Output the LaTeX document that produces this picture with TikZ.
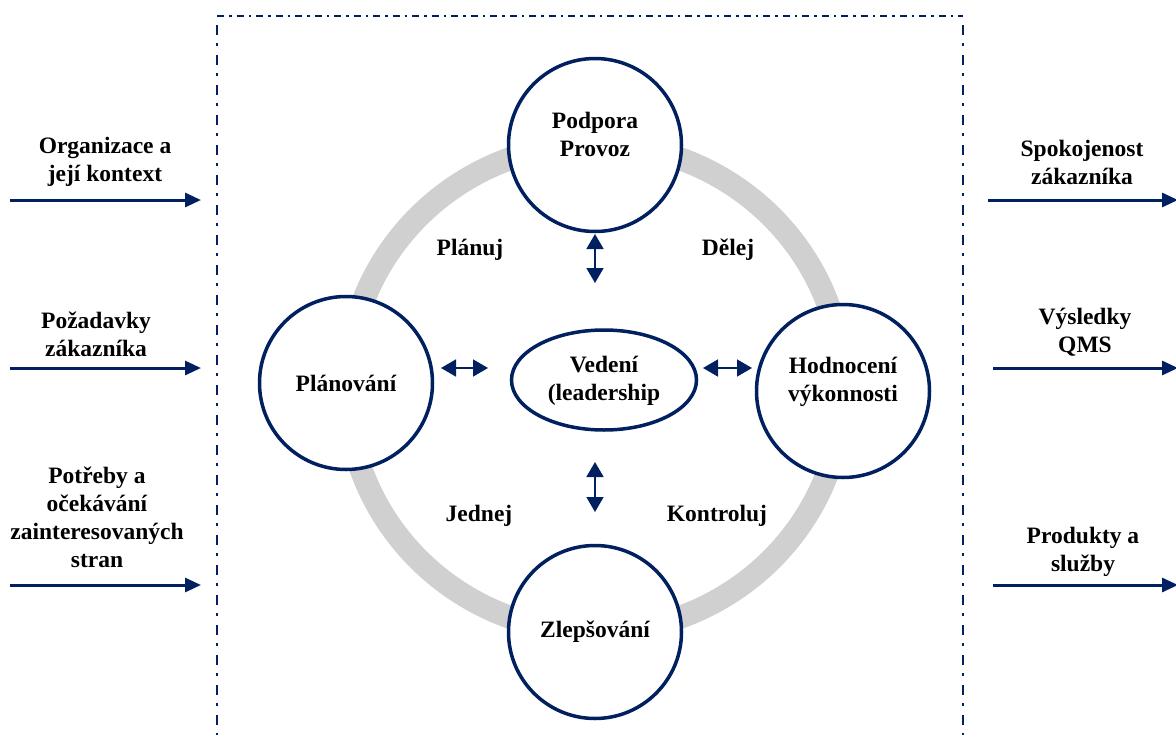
\documentclass[tikz,border=0pt]{standalone}
\usepackage{fontspec}
\setmainfont{Liberation Serif}
\usetikzlibrary{arrows.meta,shapes.geometric}
\definecolor{navy}{HTML}{002060}
\definecolor{ringgray}{HTML}{D0D0D0}
\tikzset{
  lbl/.style={font=\bfseries\fontsize{23.5}{28}\selectfont, align=center, text=black, inner sep=0pt},
  stage/.style={circle, draw=navy, line width=3.5pt, fill=white, minimum size=173pt, inner sep=0pt},
  inarrow/.style={draw=navy, line width=3pt, -{Triangle[length=16pt,width=14pt]}},
  link/.style={draw=navy, line width=1.6pt, {Triangle[length=15pt,width=17pt]}-{Triangle[length=15pt,width=17pt]}},
  framev/.style={draw=navy, line width=2.2pt, dash pattern=on 10pt off 8pt on 3pt off 9pt},
  frameh/.style={draw=navy, line width=2.2pt, dash pattern=on 7pt off 5pt on 2.5pt off 5pt}
}
\begin{document}
\begin{tikzpicture}[x=1pt,y=-1pt]
\useasboundingbox (0,0) rectangle (1176,734);
\fill[white] (0,0) rectangle (1176,734);

% frame open at the bottom
\coordinate (fbl) at (217,740); \coordinate (ftl) at (217,16);
\coordinate (ftr) at (963,16);  \coordinate (fbr) at (963,740);
\draw[frameh] (ftl) -- (ftr);
\draw[framev] (ftl) ++(0,9) -- (fbl);
\draw[framev] (ftr) ++(0,9) -- (fbr);

% cycle ring
\draw[ringgray, line width=23pt] (595,388) ellipse (248pt and 244pt);

% stages
\node[stage] (top) at (595,145) {};
\node[lbl] at (top) [yshift=11pt] {Podpora\\Provoz};
\node[stage] (left) at (346,383) {};
\node[lbl] at (left) {Plánování};
\node[stage] (right) at (843,391) {};
\node[lbl] at (right) [yshift=9pt] {Hodnocení\\výkonnosti};
\node[stage] (bottom) at (595,632) {};
\node[lbl] at (bottom) {Zlepšování};

\node[ellipse, draw=navy, line width=3.5pt, fill=white, minimum width=185pt, minimum height=100pt, inner sep=0pt] (lead) at (604,380) {};
\node[lbl] at (lead) [yshift=-1pt] {Vedení\\(leadership};

% links around the leadership
\coordinate (t1) at (595,234); \coordinate (t2) at (595,283);
\coordinate (b1) at (595,462); \coordinate (b2) at (595,512);
\coordinate (l1) at (441,368); \coordinate (l2) at (488,368);
\coordinate (r1) at (703,368); \coordinate (r2) at (752,368);
\draw[link] (t1) -- (t2);
\draw[link] (b1) -- (b2);
\draw[link] (l1) -- (l2);
\draw[link] (r1) -- (r2);

% phase labels
\node[lbl] (plan) at (470,250) {Plánuj};
\node[lbl] (do) at (728,250) {Dělej};
\node[lbl] (act) at (479,516) {Jednej};
\node[lbl] (check) at (717,516) {Kontroluj};

% inputs
\node[lbl] (in1) at (105,162) {Organizace a\\její kontext};
\node[lbl] (in2) at (96,334) {Požadavky\\zákazníka};
\node[lbl] (in3) at (97,517) {Potřeby a\\očekávání\\zainteresovaných\\stran};
\coordinate (a1s) at (10,200); \coordinate (a1e) at (201,200);
\coordinate (a2s) at (10,368); \coordinate (a2e) at (201,368);
\coordinate (a3s) at (10,585); \coordinate (a3e) at (201,585);
\draw[inarrow] (a1s) -- (a1e);
\draw[inarrow] (a2s) -- (a2e);
\draw[inarrow] (a3s) -- (a3e);

% outputs
\node[lbl] (out1) at (1082,162) {Spokojenost\\zákazníka};
\node[lbl] (out2) at (1085,332) {Výsledky\\QMS};
\node[lbl] (out3) at (1083,552) {Produkty a\\služby};
\coordinate (o1s) at (988,200); \coordinate (o1e) at (1178,200);
\coordinate (o2s) at (993,368); \coordinate (o2e) at (1178,368);
\coordinate (o3s) at (993,585); \coordinate (o3e) at (1178,585);
\draw[inarrow] (o1s) -- (o1e);
\draw[inarrow] (o2s) -- (o2e);
\draw[inarrow] (o3s) -- (o3e);
\end{tikzpicture}
\end{document}
